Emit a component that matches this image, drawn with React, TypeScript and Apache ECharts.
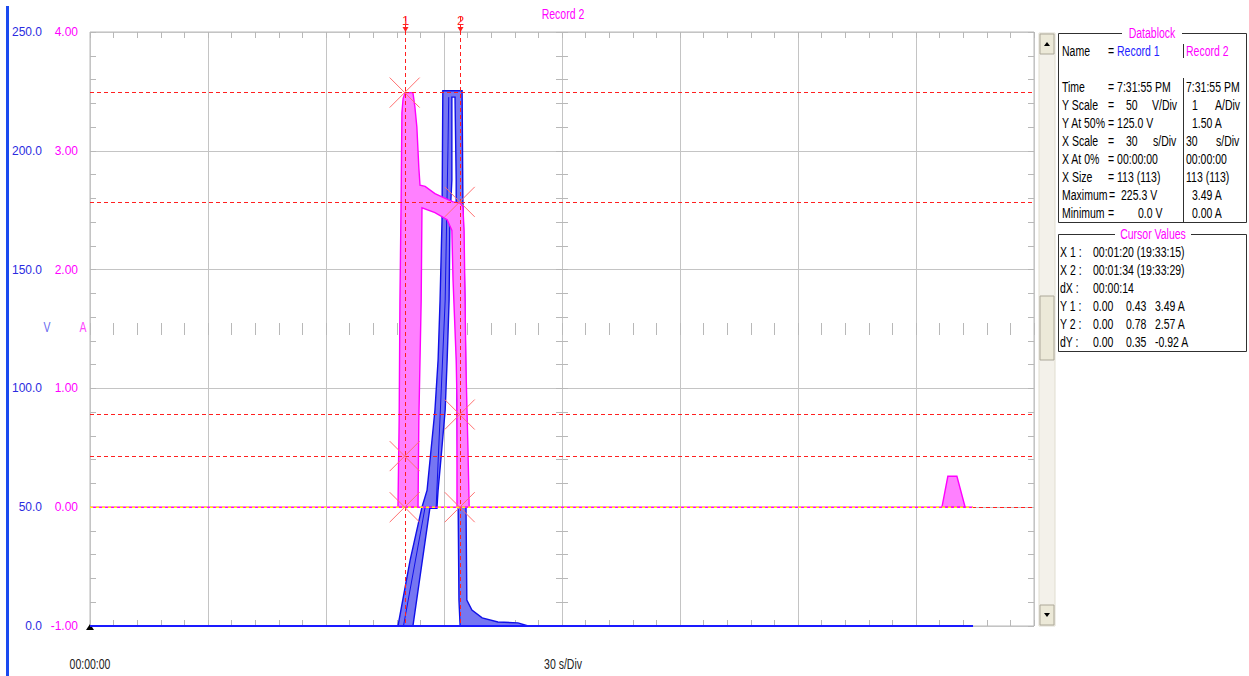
import React, { useEffect, useRef } from "react";
import * as echarts from "echarts";

const FONT = '"Liberation Sans", Arial, sans-serif';
const SX = 0.7; // horizontal squeeze for the narrow panel font

// axes
const TIME_MIN = 0, TIME_MAX = 240, TIME_STEP = 30;
const VOLT_MIN = 0, VOLT_MAX = 250, VOLT_STEP = 50;
const AMP_MIN = -1, AMP_MAX = 4, AMP_STEP = 1;

// Record 1 (V) envelope outline: [seconds, volts]
const record1Band: number[][] = [
  [78.3, 0], [81.4, 27.8], [84.4, 50], [85.7, 57.2], [87.7, 90.9], [88.5, 112.0], [89.0, 137.2],
  [89.5, 170.9], [89.7, 225.3], [94.6, 225.3], [94.8, 179.3], [95.3, 137.2], [95.6, 95.1],
  [95.6, 50], [95.8, 10.9], [97.1, 6.7], [99.7, 3.4], [103.7, 1.7], [108.8, 1.3], [111.4, 0],
  [94.1, 0], [93.8, 10.9], [93.6, 50], [93.3, 95.1], [93.1, 137.2], [93.1, 187.7], [92.8, 222.6],
  [92.0, 222.6], [92.0, 187.7], [91.5, 170.9], [91.3, 137.2], [90.8, 112.0], [90.3, 90.9],
  [89.2, 69.9], [88.5, 57.2], [88.2, 49.5], [86.4, 49.5], [82.1, 0],
];
// Record 1 inner trace (darker line inside the envelope)
const record1Inner: number[][] = [
  [79.7, 0], [85.2, 50], [88.0, 50], [90.3, 137.2], [91.0, 200], [91.2, 222.6],
];
const record1Baseline: number[][] = [[0, 0], [224.5, 0]];

// Record 2 (A) envelope outline: [seconds, amps]
const record2Band: number[][] = [
  [78.3, 0], [78.6, 0.73], [78.8, 1.74], [79.1, 2.59], [79.3, 3.32], [79.6, 3.44], [80.1, 3.49],
  [82.1, 3.49], [82.6, 3.37], [83.1, 3.2], [83.6, 2.86], [83.9, 2.71], [85.2, 2.7], [87.7, 2.64],
  [90.3, 2.6], [92.3, 2.57], [94.1, 2.56], [94.8, 2.53], [95.1, 2.33], [95.6, 1.15], [96.1, 0.48],
  [96.4, 0], [93.3, 0], [93.3, 0.9], [93.1, 1.24], [92.3, 1.91], [92.0, 2.33], [90.8, 2.42],
  [87.7, 2.48], [84.4, 2.52], [84.2, 1.74], [83.6, 0.73], [83.4, 0],
];
const record2Pulse: number[][] = [[216.6, 0], [218.1, 0.26], [220.4, 0.26], [222.5, 0]];
const record2Baseline: number[][] = [[0, 0], [224.5, 0]];

// cursors
const cursorTimes = [80, 94];
const cursorNames = ["1", "2"];
const cursor1Amps = [3.49, 0.43, 0.0];
const cursor2Amps = [2.57, 0.78, 0.0];

const datablockLeft = [
  "Name", "", "Time", "Y Scale", "Y At 50%", "X Scale", "X At 0%", "X Size", "Maximum", "Minimum",
];
const cursorRowNames = ["X 1 :", "X 2 :", "dX :", "Y 1 :", "Y 2 :", "dY :"];
const cursorRowValues = [
  ["00:01:20 (19:33:15)"],
  ["00:01:34 (19:33:29)"],
  ["00:00:14"],
  ["0.00", "0.43", "3.49 A"],
  ["0.00", "0.78", "2.57 A"],
  ["0.00", "0.35", "-0.92 A"],
];

const GRAY = "#b8b8b8";
const BLUE_TXT = "#2b2be0";
const PINK = "#ff00ff";

function tickAxisX(extra: any) {
  return {
    type: "value", min: TIME_MIN, max: TIME_MAX, interval: TIME_STEP,
    axisLine: { show: false, onZero: false },
    axisLabel: { show: false },
    splitLine: { show: false },
    axisTick: { show: true, inside: true, length: 6, lineStyle: { color: GRAY } },
    minorTick: { show: true, splitNumber: 5, length: 6, lineStyle: { color: GRAY } },
    ...extra,
  };
}
function tickAxisY(extra: any) {
  return {
    type: "value", min: VOLT_MIN, max: VOLT_MAX, interval: VOLT_STEP,
    axisLine: { show: false, onZero: false },
    axisLabel: { show: false },
    splitLine: { show: false },
    axisTick: { show: true, inside: true, length: 6, lineStyle: { color: GRAY } },
    minorTick: { show: true, splitNumber: 5, length: 6, lineStyle: { color: GRAY } },
    ...extra,
  };
}

function bandSeries(data: number[][], yAxisIndex: number, fill: string, stroke: string, z: number) {
  return {
    type: "custom", xAxisIndex: 0, yAxisIndex, data, z, silent: true,
    encode: { x: 0, y: 1 },
    renderItem: (params: any, api: any) => {
      if (params.dataIndex !== 0) return null;
      const pts = data.map((p) => api.coord(p));
      return { type: "polygon", shape: { points: pts }, style: { fill, stroke, lineWidth: 1.4 } };
    },
  };
}

function txt(x: number, y: number, text: string, fill = "#000", align = "left", size = 15) {
  return {
    type: "text", x, y, scaleX: SX, silent: true,
    style: { text, fill, align, verticalAlign: "middle", fontSize: size, fontFamily: FONT },
  };
}

export default function App() {
  const ref = useRef<HTMLDivElement>(null);
  useEffect(() => {
    if (!ref.current) return;
    const chart = echarts.init(ref.current, null, { renderer: "svg" });

    const markerData: number[][] = [
      ...cursor1Amps.map((a) => [cursorTimes[0], a]),
      ...cursor2Amps.map((a) => [cursorTimes[1], a]),
    ];
    const levels = Array.from(new Set([...cursor1Amps, ...cursor2Amps]));

    const graphics: any[] = [];
    // left blue bar
    graphics.push({ type: "rect", shape: { x: 6, y: 6, width: 3, height: 670 }, style: { fill: "#1a4af0" }, silent: true });
    // title and units
    graphics.push(txt(563, 14, "Record 2", PINK, "center"));
    graphics.push(txt(47, 327, "V", "#6a6af0", "center"));
    graphics.push(txt(83, 327, "A", "#ff44ff", "center"));
    graphics.push(txt(90, 664, "00:00:00", "#222", "center"));
    graphics.push(txt(563, 664, "30 s/Div", "#222", "center"));
    // origin marker
    graphics.push({ type: "polygon", shape: { points: [[86, 630], [94, 630], [90, 624]] }, style: { fill: "#000" }, silent: true });

    // scrollbar
    graphics.push({ type: "rect", shape: { x: 1039, y: 33, width: 16, height: 593 }, style: { fill: "#f3f1ea", stroke: "#e0ddd0" }, silent: true });
    const btn = (y: number, up: boolean) => {
      graphics.push({ type: "rect", shape: { x: 1040, y, width: 14, height: 20 }, style: { fill: "#ece9d8", stroke: "#aca899" }, silent: true });
      const cy = y + 10;
      graphics.push({
        type: "polygon", silent: true,
        shape: { points: up ? [[1044, cy + 2], [1050, cy + 2], [1047, cy - 2]] : [[1044, cy - 2], [1050, cy - 2], [1047, cy + 2]] },
        style: { fill: "#000" },
      });
    };
    btn(34, true);
    btn(605, false);
    graphics.push({ type: "rect", shape: { x: 1040, y: 296, width: 14, height: 64 }, style: { fill: "#ece9d8", stroke: "#aca899" }, silent: true });

    // Datablock
    graphics.push({ type: "rect", shape: { x: 1058.5, y: 33.5, width: 188, height: 189 }, style: { fill: "#fff", stroke: "#303030", lineWidth: 1 }, silent: true });
    graphics.push({ type: "rect", shape: { x: 1122, y: 26, width: 60, height: 14 }, style: { fill: "#fff" }, silent: true });
    graphics.push(txt(1152, 33, "Datablock", PINK, "center"));
    graphics.push({ type: "line", shape: { x1: 1183.5, y1: 44, x2: 1183.5, y2: 58 }, style: { stroke: "#303030" }, silent: true });
    graphics.push({ type: "line", shape: { x1: 1183.5, y1: 78, x2: 1183.5, y2: 222 }, style: { stroke: "#303030" }, silent: true });
    const rowY = [51, 0, 87, 105, 123, 141, 159, 177, 195, 213];
    datablockLeft.forEach((s, i) => { if (s) graphics.push(txt(1062, rowY[i], s)); });
    graphics.push(txt(1108, 51, "="));
    graphics.push(txt(1117, 51, "Record 1", "#2323ff"));
    graphics.push(txt(1186, 51, "Record 2", PINK));
    graphics.push(txt(1108, 87, "= 7:31:55 PM"));
    graphics.push(txt(1186, 87, "7:31:55 PM"));
    graphics.push(txt(1108, 105, "="));
    graphics.push(txt(1126, 105, "50"));
    graphics.push(txt(1152, 105, "V/Div"));
    graphics.push(txt(1192, 105, "1"));
    graphics.push(txt(1215, 105, "A/Div"));
    graphics.push(txt(1108, 123, "= 125.0 V"));
    graphics.push(txt(1192, 123, "1.50 A"));
    graphics.push(txt(1108, 141, "="));
    graphics.push(txt(1126, 141, "30"));
    graphics.push(txt(1153, 141, "s/Div"));
    graphics.push(txt(1186, 141, "30"));
    graphics.push(txt(1216, 141, "s/Div"));
    graphics.push(txt(1108, 159, "= 00:00:00"));
    graphics.push(txt(1186, 159, "00:00:00"));
    graphics.push(txt(1108, 177, "= 113 (113)"));
    graphics.push(txt(1186, 177, "113 (113)"));
    graphics.push(txt(1109, 195, "="));
    graphics.push(txt(1121, 195, "225.3 V"));
    graphics.push(txt(1192, 195, "3.49 A"));
    graphics.push(txt(1108, 213, "="));
    graphics.push(txt(1138, 213, "0.0 V"));
    graphics.push(txt(1192, 213, "0.00 A"));

    // Cursor values
    graphics.push({ type: "rect", shape: { x: 1058.5, y: 234.5, width: 188, height: 117 }, style: { fill: "#fff", stroke: "#303030", lineWidth: 1 }, silent: true });
    graphics.push({ type: "rect", shape: { x: 1115, y: 227, width: 76, height: 14 }, style: { fill: "#fff" }, silent: true });
    graphics.push(txt(1153, 234, "Cursor Values", PINK, "center"));
    const cx = [1093, 1126, 1155];
    cursorRowNames.forEach((s, i) => {
      const y = 252 + i * 18;
      graphics.push(txt(1060, y, s));
      cursorRowValues[i].forEach((v, j) => graphics.push(txt(cx[j], y, v)));
    });

    const option: any = {
      animation: false,
      backgroundColor: "#fff",
      textStyle: { fontFamily: FONT },
      grid: { left: 90, top: 32, width: 944, height: 594, show: true, borderColor: GRAY, borderWidth: 1, backgroundColor: "transparent" },
      xAxis: [
        tickAxisX({ position: "bottom", splitLine: { show: true, lineStyle: { color: "#c4c4c4", width: 1 } } }),
        tickAxisX({ position: "top" }),
        tickAxisX({ position: "bottom", offset: -297 }),
        tickAxisX({ position: "bottom", offset: -297, axisTick: { show: true, inside: false, length: 6, lineStyle: { color: GRAY } } }),
      ],
      yAxis: [
        tickAxisY({
          position: "left",
          splitLine: { show: true, lineStyle: { color: "#c4c4c4", width: 1 } },
          axisLabel: { show: true, color: BLUE_TXT, margin: 48, fontSize: 12, fontFamily: FONT, formatter: (v: number) => v.toFixed(1) },
        }),
        {
          type: "value", position: "left", min: AMP_MIN, max: AMP_MAX, interval: AMP_STEP,
          axisLine: { show: false, onZero: false }, axisTick: { show: false }, splitLine: { show: false },
          axisLabel: { show: true, color: PINK, margin: 12, fontSize: 12, fontFamily: FONT, formatter: (v: number) => v.toFixed(2) },
        },
        tickAxisY({ position: "right" }),
        tickAxisY({ position: "left", offset: -472 }),
        tickAxisY({ position: "left", offset: -472, axisTick: { show: true, inside: false, length: 6, lineStyle: { color: GRAY } } }),
      ],
      graphic: graphics,
      series: [
        {
          type: "line", name: "Cursor levels", xAxisIndex: 0, yAxisIndex: 1, data: [],
          silent: true, z: 2,
          markLine: {
            silent: true, symbol: "none", label: { show: false }, z: 6,
            lineStyle: { color: "#ff2020", type: [4, 3], width: 1 },
            data: levels.map((v) => ({ yAxis: v })),
          },
        },
        bandSeries(record1Band, 0, "#7676f2", "#1010e8", 3),
        {
          type: "line", name: "Record 1 inner", xAxisIndex: 0, yAxisIndex: 0, data: record1Inner,
          showSymbol: false, silent: true, z: 3, lineStyle: { color: "#1010e8", width: 1 },
        },
        bandSeries(record2Band, 1, "#ff80ff", "#ff00ff", 4),
        bandSeries(record2Pulse, 1, "#ff80ff", "#ff00ff", 4),
        {
          type: "line", name: "Record 1", xAxisIndex: 0, yAxisIndex: 0, data: record1Baseline,
          showSymbol: false, silent: true, z: 7, lineStyle: { color: "#1a1aff", width: 2 },
        },
        {
          type: "line", name: "Record 2 base", xAxisIndex: 0, yAxisIndex: 1, data: record2Baseline,
          showSymbol: false, silent: true, z: 7, lineStyle: { color: PINK, width: 1.5 },
        },
        {
          type: "line", name: "Record 2", xAxisIndex: 0, yAxisIndex: 1, data: record2Baseline,
          showSymbol: false, silent: true, z: 8, lineStyle: { color: "#ffff00", width: 1.5, type: [3, 3] },
        },
        {
          type: "custom", xAxisIndex: 0, yAxisIndex: 1, z: 9, silent: true,
          data: cursorTimes.map((t, i) => [t, AMP_MAX, i]),
          encode: { x: 0, y: 1 },
          renderItem: (params: any, api: any) => {
            const t = api.value(0);
            const top = api.coord([t, AMP_MAX]);
            const bot = api.coord([t, AMP_MIN]);
            const x = Math.round(top[0]) + 0.5;
            return {
              type: "group",
              children: [
                { type: "line", shape: { x1: x, y1: top[1] - 15, x2: x, y2: bot[1] }, style: { stroke: "#ff2020", lineWidth: 1, lineDash: [4, 3] } },
                { type: "polygon", shape: { points: [[x - 3, top[1] - 5], [x + 3, top[1] - 5], [x, top[1]]] }, style: { fill: "#ff2020" } },
                { type: "text", style: { text: cursorNames[params.dataIndex], x, y: top[1] - 12, align: "center", verticalAlign: "middle", fill: "#ff2020", fontSize: 13, fontFamily: FONT } },
              ],
            };
          },
        },
        {
          type: "custom", xAxisIndex: 0, yAxisIndex: 1, z: 10, silent: true,
          data: markerData, encode: { x: 0, y: 1 },
          renderItem: (params: any, api: any) => {
            const p = api.coord([api.value(0), api.value(1)]);
            const s = 15;
            const st = { stroke: "#ff7070", lineWidth: 1 };
            return {
              type: "group",
              children: [
                { type: "line", shape: { x1: p[0] - s, y1: p[1] - s, x2: p[0] + s, y2: p[1] + s }, style: st },
                { type: "line", shape: { x1: p[0] - s, y1: p[1] + s, x2: p[0] + s, y2: p[1] - s }, style: st },
              ],
            };
          },
        },
      ],
    };
    chart.setOption(option);
    return () => chart.dispose();
  }, []);
  return <div ref={ref} style={{ position: "fixed", left: 0, top: 0, width: 1249, height: 676, background: "#fff" }} />;
}
